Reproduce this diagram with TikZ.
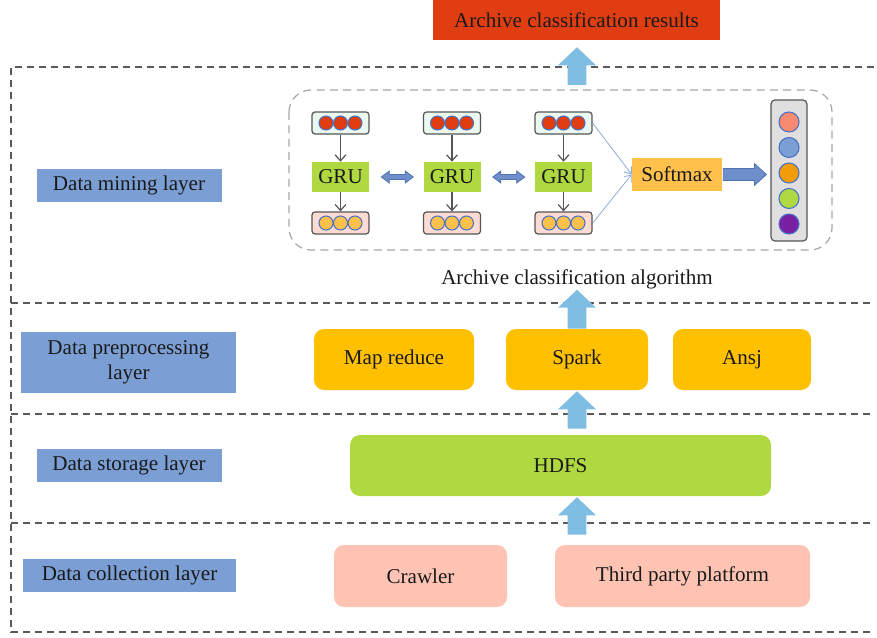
\documentclass[tikz,border=0pt]{standalone}
\usepackage{fontspec}
\setmainfont{Liberation Serif}
\usetikzlibrary{calc,arrows.meta}

\definecolor{txt}{HTML}{1A1A1A}
\definecolor{resred}{HTML}{E03E12}
\definecolor{labblue}{HTML}{7B9FD4}
\definecolor{procyel}{HTML}{FFC000}
\definecolor{limegreen}{HTML}{B0D840}
\definecolor{collpink}{HTML}{FFC3B3}
\definecolor{fatblue}{HTML}{7FBDE3}
\definecolor{layerline}{HTML}{595959}
\definecolor{algoline}{HTML}{A6A6A6}
\definecolor{boxedge}{HTML}{555555}
\definecolor{mint}{HTML}{EAF8F0}
\definecolor{rosy}{HTML}{FDDAD2}
\definecolor{dotred}{HTML}{E03C10}
\definecolor{dotorange}{HTML}{FFC04C}
\definecolor{dotedge}{HTML}{4472C4}
\definecolor{softyel}{HTML}{FFC04C}
\definecolor{vecgray}{HTML}{E0DEDF}
\definecolor{linkblue}{HTML}{8FAADC}
\definecolor{dblfill}{HTML}{6E8FCB}
\definecolor{dbledge}{HTML}{4F72B0}
\definecolor{outA}{HTML}{F98A72}
\definecolor{outB}{HTML}{7B9FD4}
\definecolor{outC}{HTML}{F39C0A}
\definecolor{outD}{HTML}{B0D840}
\definecolor{outE}{HTML}{7B1FA2}

\tikzset{
  every node/.style={font=\fontsize{15.8}{19}\selectfont, text=txt},
  layerlab/.style={fill=labblue, inner sep=0pt, minimum height=24.75pt, align=center},
  procbox/.style={rounded corners=7.5pt, inner sep=0pt, minimum height=45.75pt},
  layersep/.style={draw=layerline, line width=1.1pt, dash pattern=on 5.5pt off 3.5pt},
  inbox/.style={draw=boxedge, line width=0.9pt, fill=mint, rounded corners=2.25pt,
    minimum width=42.75pt, minimum height=16.5pt, inner sep=0pt},
  outbox/.style={inbox, fill=rosy},
  dotnode/.style={circle, draw=dotedge, line width=0.8pt, minimum size=10.5pt, inner sep=0pt},
  grubox/.style={fill=limegreen, minimum width=42.75pt, minimum height=22.5pt, inner sep=0pt},
  darkarrow/.style={draw=boxedge, line width=0.9pt, -{Straight Barb[length=4.5pt,width=8pt]}},
  linkarrow/.style={draw=linkblue, line width=0.6pt, -{Straight Barb[length=4.5pt,width=7pt]}},
  vecdot/.style={circle, draw=dotedge, line width=0.8pt, minimum size=15pt, inner sep=0pt},
}

% wide arrow pointing up: #1 = foot of the shaft, #2 = tip
\newcommand\fatup[2]{%
  \fill[fatblue] let \p1=#1, \p2=#2 in
    (\x1-7.1pt,\y1) -- (\x1-7.1pt,\y2-13.5pt) -- (\x1-14.2pt,\y2-13.5pt) --
    (\x1,\y2) -- (\x1+14.2pt,\y2-13.5pt) -- (\x1+7.1pt,\y2-13.5pt) --
    (\x1+7.1pt,\y1) -- cycle;}

% two-headed horizontal arrow between #1 and #2
\newcommand\hdbl[2]{%
  \filldraw[fill=dblfill, draw=dbledge, line width=0.6pt] let \p1=#1, \p2=#2 in
    (\x1,\y1) -- (\x1+6pt,\y1+4.5pt) -- (\x1+6pt,\y1+1.9pt) -- (\x2-6pt,\y1+1.9pt) --
    (\x2-6pt,\y1+4.5pt) -- (\x2,\y1) -- (\x2-6pt,\y1-4.5pt) -- (\x2-6pt,\y1-1.9pt) --
    (\x1+6pt,\y1-1.9pt) -- (\x1+6pt,\y1-4.5pt) -- cycle;}

% wide arrow pointing right: #1 = tail, #2 = tip
\newcommand\fatright[2]{%
  \filldraw[fill=dblfill, draw=dbledge, line width=0.6pt] let \p1=#1, \p2=#2 in
    (\x1,\y1+4.5pt) -- (\x2-9pt,\y1+4.5pt) -- (\x2-9pt,\y1+8.2pt) -- (\x2,\y1) --
    (\x2-9pt,\y1-8.2pt) -- (\x2-9pt,\y1-4.5pt) -- (\x1,\y1-4.5pt) -- cycle;}

\begin{document}
\begin{tikzpicture}[x=0.75pt, y=-0.75pt]
\useasboundingbox (0,0) rectangle (877,638);

% layer separators
\draw[layersep] (874,67) -- (11,67) -- (11,632) -- (874,632);
\foreach \yy in {303,414,523} \draw[layersep] (11,\yy) -- (874,\yy);

% layer labels
\node[layerlab, minimum width=138.75pt] (labmine) at (129,185.5) {Data mining layer};
\node[layerlab, minimum width=161.25pt, minimum height=45.75pt] (labprep) at (128.5,362.5)
  {Data preprocessing\\layer};
\node[layerlab, minimum width=138.75pt] (labstore) at (129,465.5) {Data storage layer};
\node[layerlab, minimum width=159.75pt] (labcoll) at (129.5,575.5) {Data collection layer};

% output node
\node[fill=resred, minimum width=215.25pt, minimum height=30pt, inner sep=0pt]
  (results) at (576.5,20) {Archive classification results};

% algorithm frame
\draw[algoline, line width=0.9pt, dash pattern=on 6pt off 4pt, rounded corners=16.5pt]
  (289,90) rectangle (832,250);
\node (algo) at (577,279) {Archive classification algorithm};

% GRU columns
\foreach \i/\xx in {1/340.5,2/452,3/563.5}{
  \node[inbox] (in\i) at (\xx,123) {};
  \node[outbox] (out\i) at (\xx,223) {};
  \foreach \k/\dx in {1/-14.5,2/0,3/14.5}{
    \node[dotnode, fill=dotred] (in\i d\k) at (\xx+\dx,123) {};
    \node[dotnode, fill=dotorange] (out\i d\k) at (\xx+\dx,223) {};
  }
  \node[grubox] (gru\i) at (\xx,177) {GRU};
  \draw[darkarrow] (in\i) -- (gru\i);
  \draw[darkarrow] (gru\i) -- (out\i);
}
\hdbl{($(gru1.east)+(12,0)$)}{($(gru2.west)+(-10,0)$)}
\hdbl{($(gru2.east)+(12,0)$)}{($(gru3.west)+(-10,0)$)}

% softmax and class vector
\node[fill=softyel, minimum width=67.5pt, minimum height=24.75pt, inner sep=0pt]
  (softmax) at (677,174.5) {Softmax};
\draw[linkarrow] (in3.east) -- (softmax.west);
\draw[linkarrow] (out3.east) -- (softmax.west);
\node[draw=boxedge, line width=0.9pt, fill=vecgray, rounded corners=3pt,
  minimum width=27pt, minimum height=105.75pt, inner sep=0pt] (vec) at (789,170.5) {};
\foreach \k/\yy/\cc in {1/122/outA,2/147.5/outB,3/173/outC,4/198.5/outD,5/224/outE}
  \node[vecdot, fill=\cc] (vec\k) at (789,\yy) {};
\fatright{($(softmax.east)+(1,0)$)}{($(vec.west)+(-4,0)$)}

% preprocessing tools
\node[procbox, fill=procyel, minimum width=120pt] (mapred) at (394,359.5) {Map reduce};
\node[procbox, fill=procyel, minimum width=106.5pt] (spark) at (577,359.5) {Spark};
\node[procbox, fill=procyel, minimum width=103.5pt] (ansj) at (742,359.5) {Ansj};

% storage
\node[procbox, fill=limegreen, minimum width=315.75pt] (hdfs) at (560.5,465.5) {HDFS};

% collection sources
\node[procbox, fill=collpink, minimum width=129.75pt, minimum height=46.5pt] (crawler) at (420.5,576) {Crawler};
\node[procbox, fill=collpink, minimum width=191.25pt, minimum height=46.5pt] (third) at (682.5,576) {Third party platform};

% data flow arrows
\coordinate (minefoot) at (577,85);
\fatup{(minefoot)}{($(results.south)+(0,7)$)}
\fatup{(spark.north)}{($(spark.north)+(0,-39)$)}
\fatup{($(hdfs.north -| spark)+(0,-6)$)}{($(spark.south)+(0,1)$)}
\fatup{($(third.north -| spark)+(0,-10)$)}{($(hdfs.south -| spark)+(0,1)$)}
\end{tikzpicture}
\end{document}
